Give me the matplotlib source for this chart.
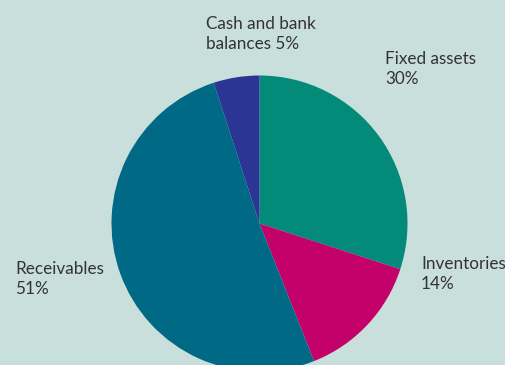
import matplotlib.pyplot as plt

# asset breakdown, clockwise from 12 o'clock
categories = ["Fixed assets", "Inventories", "Receivables", "Cash and bank balances"]
shares = [30, 14, 51, 5]
label_text = ["Fixed assets\n{}%", "Inventories\n{}%", "Receivables\n{}%", "Cash and bank\nbalances {}%"]

colors = ["#038a78", "#c4006a", "#006a86", "#2b3694"]
bg = "#c9dfdb"

W, H = 506, 365
fig = plt.figure(figsize=(W / 100, H / 100), dpi=100, facecolor=bg)
ax = fig.add_axes([0, 0, 1, 1])
ax.set_facecolor(bg)

cx, cy, r = 259.5, H - 223.5, 148
ax.pie(shares, colors=colors, startangle=90, counterclock=False,
       center=(cx, cy), radius=r, frame=True,
       wedgeprops=dict(linewidth=0))
ax.set_xlim(0, W)
ax.set_ylim(0, H)
ax.set_aspect("equal")
ax.axis("off")

# label anchors (top-left corner of each text block, pixels from top)
label_pos = [(385, 51), (421, 256), (15, 261), (206, 16)]
for txt, val, (x, y) in zip(label_text, shares, label_pos):
    ax.text(x, H - y, txt.format(val), ha="left", va="top",
            fontsize=12.3, family="Lato", color="#333333", linespacing=1.32)

fig.savefig("out.png", dpi=100, facecolor=bg)
